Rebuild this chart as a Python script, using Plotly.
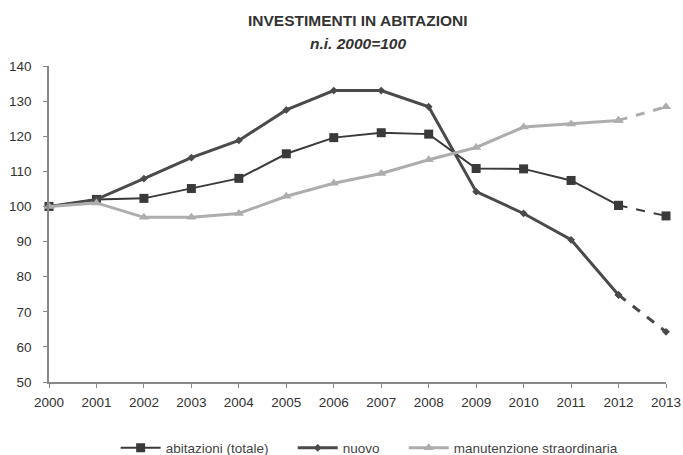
import plotly.graph_objects as go

years = [2000, 2001, 2002, 2003, 2004, 2005, 2006, 2007, 2008, 2009, 2010, 2011, 2012, 2013]
abitazioni = [100, 102, 102.3, 105.1, 108, 115, 119.6, 121, 120.6, 110.8, 110.7, 107.4, 100.3, 97.3]
nuovo = [100, 102, 107.9, 113.9, 118.8, 127.5, 133, 133, 128.4, 104.2, 98, 90.5, 74.8, 64.3]
manutenzione = [100, 101, 96.9, 96.9, 98, 102.9, 106.6, 109.4, 113.3, 116.8, 122.6, 123.5, 124.5, 128.4]
names = ["abitazioni (totale)", "nuovo", "manutenzione straordinaria"]

styles = [
    dict(color="#3a3a3a", width=2, symbol="square", size=9),
    dict(color="#4a4a4a", width=3, symbol="diamond", size=6),
    dict(color="#adadad", width=3, symbol="triangle-up", size=9),
]
legend_ids = ["legend", "legend2", "legend3"]
legend_x = [0.108, 0.395, 0.575]

fig = go.Figure()
for name, vals, st, lid in zip(names, [abitazioni, nuovo, manutenzione], styles, legend_ids):
    fig.add_trace(go.Scatter(
        x=years[:-1], y=vals[:-1], name=name, mode="lines+markers", legend=lid,
        line=dict(color=st["color"], width=st["width"]),
        marker=dict(symbol=st["symbol"], size=st["size"], color=st["color"]),
        cliponaxis=False,
    ))
    fig.add_trace(go.Scatter(
        x=years[-2:], y=vals[-2:], name=name, mode="lines+markers", showlegend=False,
        line=dict(color=st["color"], width=st["width"], dash="dash"),
        marker=dict(symbol=st["symbol"], size=st["size"], color=st["color"]),
        cliponaxis=False,
    ))

legend_common = dict(orientation="h", y=-0.16, yanchor="top", xanchor="left",
                     font=dict(size=13.5, color="#444444"), itemwidth=40,
                     bgcolor="rgba(0,0,0,0)")
layout_legends = {lid: dict(legend_common, x=lx) for lid, lx in zip(legend_ids, legend_x)}

fig.update_layout(
    width=683, height=455,
    margin=dict(l=49, r=17, t=66, b=73, autoexpand=False),
    paper_bgcolor="white", plot_bgcolor="white",
    font=dict(family="Liberation Sans, Arial, sans-serif", size=12, color="#333333"),
    showlegend=True,
    annotations=[
        dict(text="<b>INVESTIMENTI IN ABITAZIONI</b>", xref="paper", yref="paper",
             x=0.5, y=1.0, yshift=46, xanchor="center", yanchor="middle", showarrow=False,
             font=dict(size=15.5, color="#333333")),
        dict(text="<b><i>n.i. 2000=100</i></b>", xref="paper", yref="paper",
             x=0.5, y=1.0, yshift=23, xanchor="center", yanchor="middle", showarrow=False,
             font=dict(size=15.5, color="#333333")),
    ],
    **layout_legends,
)
fig.update_xaxes(
    range=[2000, 2013], tickmode="array", tickvals=years, ticktext=[str(y) for y in years],
    showgrid=False, showline=True, linecolor="#888888", linewidth=1.5, automargin=False,
    ticks="outside", ticklen=4, tickcolor="#888888", zeroline=False,
    tickfont=dict(size=13.5), ticklabelstandoff=3,
)
fig.update_yaxes(
    range=[50, 140], dtick=10, showgrid=False, showline=True, linecolor="#888888", linewidth=1.5,
    ticks="outside", ticklen=4, tickcolor="#888888", zeroline=False, automargin=False,
    tickfont=dict(size=13.5), ticklabelstandoff=9,
)

fig.write_html("out.html", config={"displayModeBar": False},
               post_script="document.body.style.margin='0';")
